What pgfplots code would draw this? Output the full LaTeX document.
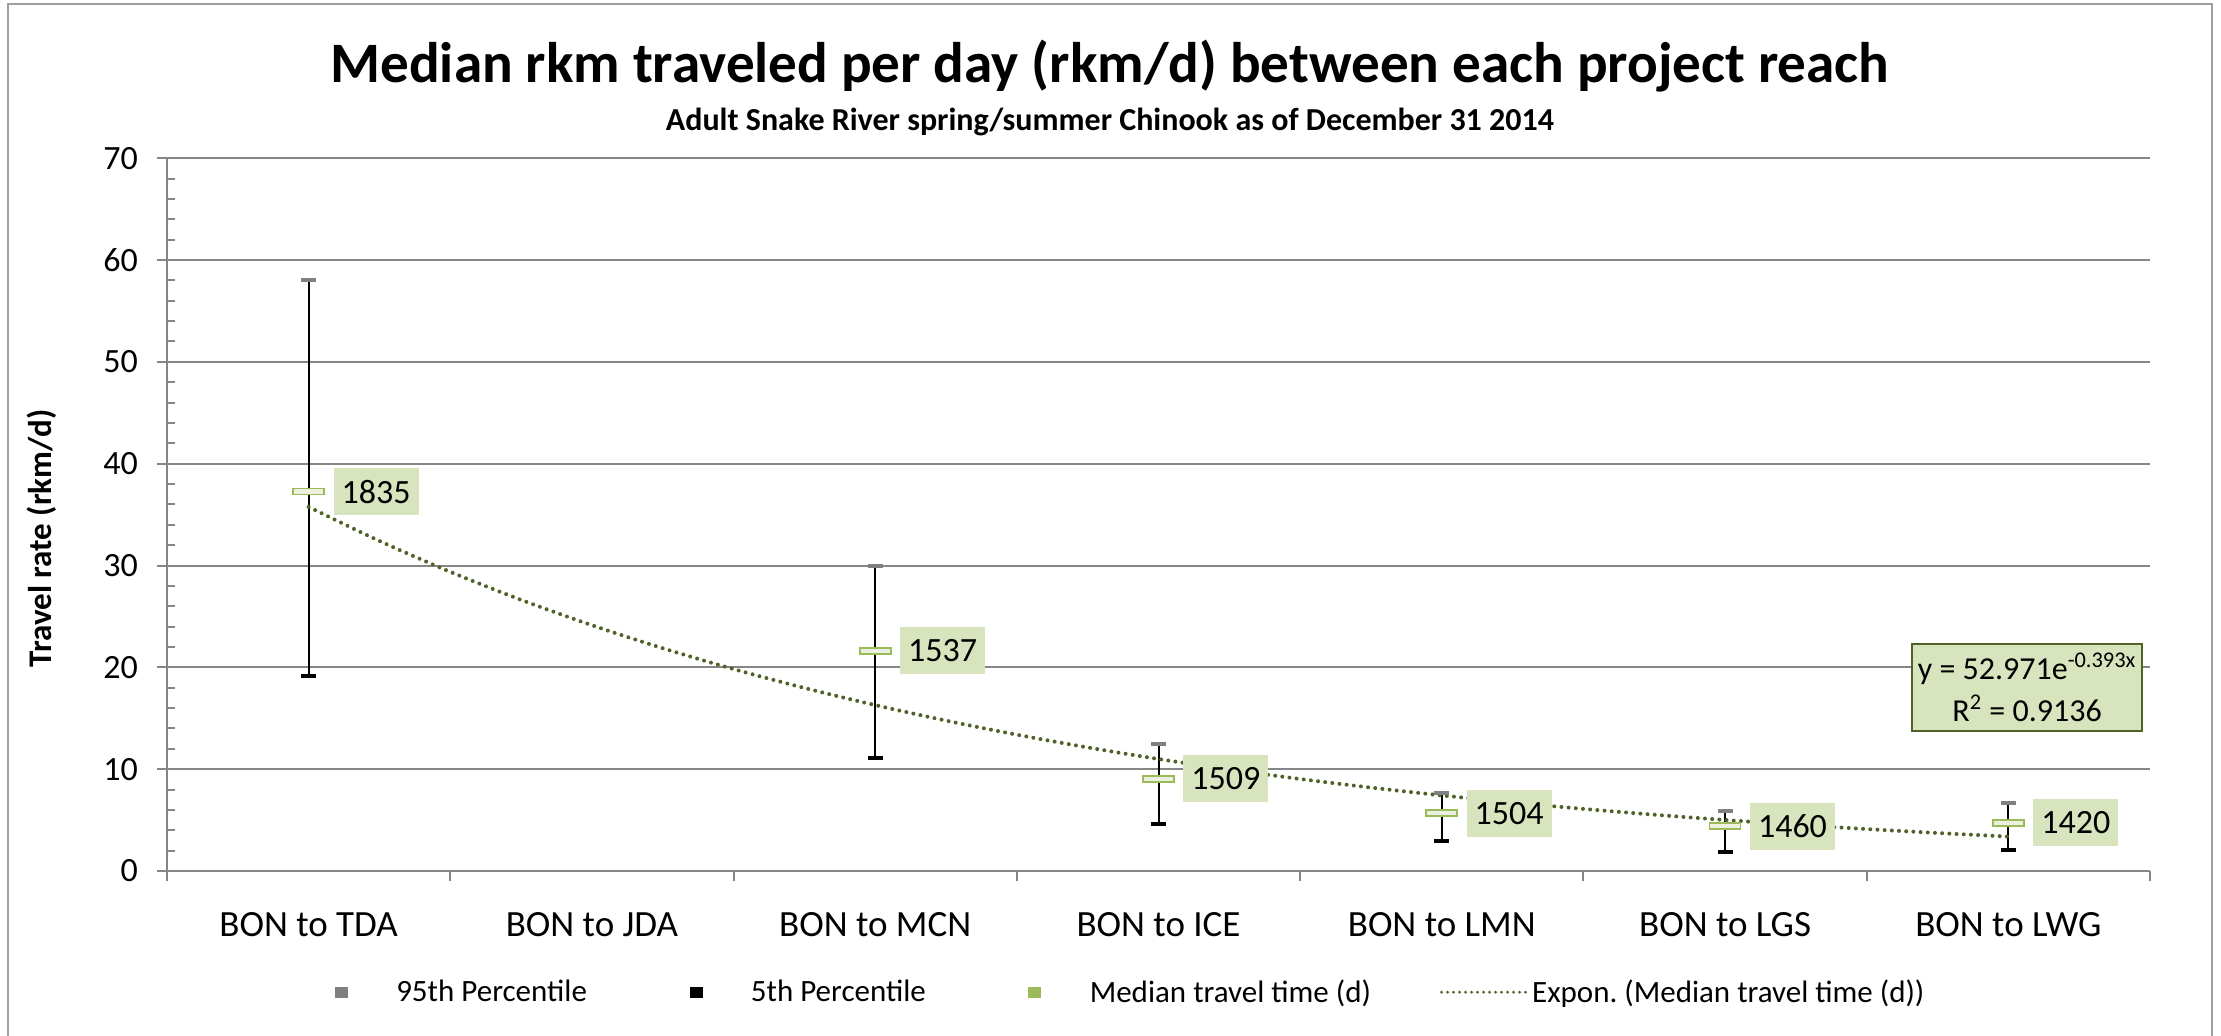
\documentclass[border=0pt]{standalone}
\usepackage{pgfplots}
\pgfplotsset{compat=1.18}
\usepackage{pgfplotstable}
\usepackage{fontspec}
\setmainfont{Carlito}
\frenchspacing
\definecolor{gridgray}{HTML}{868686}
\definecolor{capgray}{HTML}{808080}
\definecolor{medgreen}{HTML}{9BBB59}
\definecolor{medfill}{HTML}{EBF1DE}
\definecolor{labfill}{HTML}{D7E4BD}
\definecolor{trendgreen}{HTML}{4F6228}
\pgfdeclareplotmark{medbar}{\pgfpathrectangle{\pgfpoint{-7.75pt}{-1.5pt}}{\pgfpoint{15.5pt}{3pt}}\pgfusepathqfillstroke}
\pgfdeclareplotmark{capbar}{\pgfpathrectangle{\pgfpoint{-3.75pt}{-1pt}}{\pgfpoint{7.5pt}{2pt}}\pgfusepathqfill}
\pgfplotstableread{
x med p95 p5 lab
1 37.26 58.00 19.15 1835
3 21.64 29.93 11.13 1537
4 9.04 12.45 4.65 1509
5 5.67 7.63 2.98 1504
6 4.39 5.92 1.90 1460
7 4.74 6.68 2.03 1420
}\datatable
\begin{document}
\begin{tikzpicture}
\useasboundingbox (-83.5pt,-82pt) rectangle (1027pt,435.5pt);
\begin{axis}[
  scale only axis, width=991.5pt, height=356.4pt,
  at={(0pt,0pt)}, anchor=south west,
  xmin=0.5, xmax=7.5, ymin=0, ymax=70,
  axis lines*=left,
  axis line style={gridgray, line width=1pt},
  ymajorgrids, grid style={gridgray, line width=1pt},
  ytick={0,10,...,70},
  tick style={gridgray, line width=1pt},
  tick align=outside, major tick length=5pt,
  extra y ticks={2,4,6,8,12,14,16,18,22,24,26,28,32,34,36,38,42,44,46,48,52,54,56,58,62,64,66,68},
  extra y tick labels={},
  extra y tick style={grid=none, tick align=inside, major tick length=4pt},
  xtick={0.5,1.5,...,7.5}, xticklabels={},
  extra x ticks={1,2,3,4,5,6,7},
  extra x tick labels={BON to TDA,BON to JDA,BON to MCN,BON to ICE,BON to LMN,BON to LGS,BON to LWG},
  extra x tick style={grid=none, major tick length=0pt, xticklabel style={font=\fontsize{18.5}{21}\selectfont, yshift=-17pt}},
  yticklabel style={font=\fontsize{17}{20}\selectfont, xshift=-6pt},
  /pgf/number format/assume math mode=true,
  ylabel={Travel rate (rkm/d)},
  every axis y label/.style={at={(axis description cs:-0.063,0.467)}, rotate=90, anchor=center,
    font=\bfseries\fontsize{16.5}{19}\selectfont},
  clip=false,
  legend columns=4,
  legend style={at={(axis description cs:0.478,-0.17)}, anchor=center, draw=none, fill=none,
    font=\fontsize{15.5}{18}\selectfont,
    /tikz/every even column/.append style={column sep=32.5pt},
    nodes={inner xsep=2pt}},
]
% whiskers
\addplot[black, line width=1pt, unbounded coords=jump, forget plot] coordinates {
 (1,19.15) (1,58.00) (1,nan)
 (3,11.13) (3,29.93) (3,nan)
 (4,4.65) (4,12.45) (4,nan)
 (5,2.98) (5,7.63) (5,nan)
 (6,1.90) (6,5.92) (6,nan)
 (7,2.03) (7,6.68)
};
% 95th caps
\addplot[only marks, mark=capbar, capgray, forget plot] table[x=x, y=p95] {\datatable};
% 5th caps
\addplot[only marks, mark=capbar, black, forget plot] table[x=x, y=p5] {\datatable};
% medians with labels
\addplot[only marks, mark=medbar, mark options={draw=medgreen, fill=medfill, line width=0.9pt}, forget plot,
  point meta=explicit symbolic, nodes near coords, nodes near coords align=horizontal,
  every node near coord/.style={anchor=west, xshift=12pt, fill=labfill, text=black,
    font=\fontsize{17}{20}\selectfont, minimum width=42.5pt, minimum height=23.5pt, inner sep=0pt}]
  table[x=x, y=med, meta=lab] {\datatable};
% exponential trend line
\addplot[trendgreen, line width=2pt, line cap=round, dash pattern=on 0pt off 3.6pt, smooth, forget plot] coordinates {
 (1,35.757) (1.25,32.411) (1.5,29.378) (1.75,26.629) (2,24.137) (2.25,21.878) (2.5,19.831) (2.75,17.975)
 (3,16.293) (3.25,14.768) (3.5,13.386) (3.75,12.134) (4,10.998) (4.25,9.969) (4.5,9.036) (4.75,8.191)
 (5,7.424) (5.25,6.729) (5.5,6.100) (5.75,5.529) (6,5.011) (6.25,4.543) (6.5,4.118) (6.75,3.732) (7,3.383)
};
\addlegendimage{legend image code/.code={\path[draw=none,fill=none] (-20pt,0pt) -- (25.5pt,0pt); \fill[capgray] (-3pt,-2.5pt) rectangle (3pt,2.5pt);}}
\addlegendentry{95th Percentile}
\addlegendimage{legend image code/.code={\path[draw=none,fill=none] (-20pt,0pt) -- (25.5pt,0pt); \fill[black] (-3pt,-2.5pt) rectangle (3pt,2.5pt);}}
\addlegendentry{5th Percentile}
\addlegendimage{legend image code/.code={\path[draw=none,fill=none] (-20pt,0pt) -- (25.5pt,0pt); \fill[medgreen] (-3pt,-2.5pt) rectangle (3pt,2.5pt);}}
\addlegendentry{Median travel time (d)}
\addlegendimage{legend image code/.code={\draw[trendgreen, line width=1.6pt, line cap=round, dash pattern=on 0pt off 3pt] (0pt,0pt) -- (42.5pt,0pt);}}
\addlegendentry{Expon. (Median travel time (d))}
\node[draw=trendgreen, line width=1pt, fill=labfill, align=center, font=\fontsize{16}{21}\selectfont,
  minimum width=115.3pt, minimum height=43.5pt, inner xsep=2pt, inner ysep=2pt] at (rel axis cs:0.938,0.2574)
  {y = 52.971e\textsuperscript{-0.393x}\\R\textsuperscript{2} = 0.9136};
\end{axis}
\draw[gridgray!80, line width=1pt] (-79.5pt,-90pt) -- (-79.5pt,433.5pt) -- (1022.5pt,433.5pt) -- (1022.5pt,-90pt);
\node[font=\bfseries\fontsize{28.6}{33}\selectfont] at (471.5pt,402.2pt) {Median rkm traveled per day (rkm/d) between each project reach};
\node[font=\bfseries\fontsize{16}{19}\selectfont] at (471.5pt,374.6pt) {Adult Snake River spring/summer Chinook as of December 31 2014};
\end{tikzpicture}
\end{document}
